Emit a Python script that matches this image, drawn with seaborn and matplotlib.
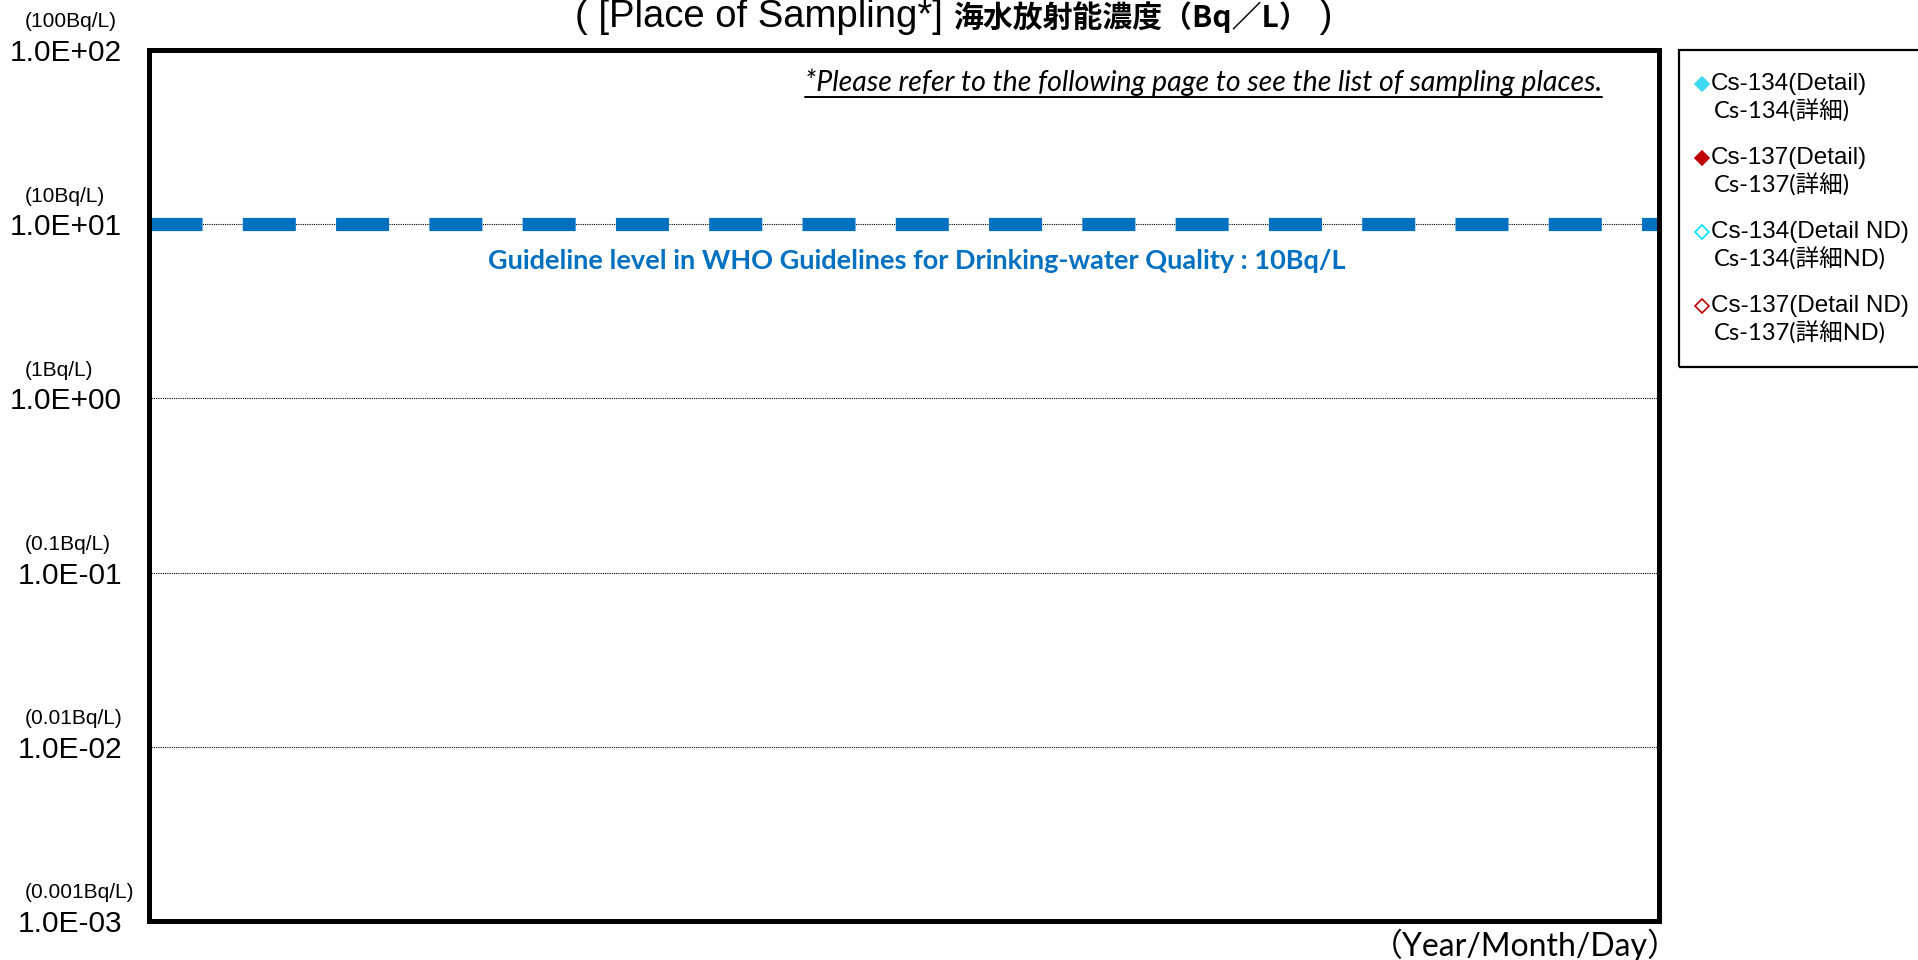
import numpy as np
import pandas as pd
import matplotlib
matplotlib.use("Agg")
import matplotlib.pyplot as plt
import matplotlib.transforms as mtransforms
import seaborn as sns
from matplotlib.lines import Line2D
from matplotlib.patches import Rectangle

# chart data
y_ticks = [1e-3, 1e-2, 1e-1, 1e0, 1e1, 1e2]
y_tick_labels = ["1.0E-03", "1.0E-02", "1.0E-01", "1.0E+00", "1.0E+01", "1.0E+02"]
y_unit_labels = ["(0.001Bq/L)", "(0.01Bq/L)", "(0.1Bq/L)", "(1Bq/L)", "(10Bq/L)", "(100Bq/L)"]
guideline_value = 10
guideline_text = "Guideline level in WHO Guidelines for Drinking-water Quality : 10Bq/L"
note_text = "*Please refer to the following page to see the list of sampling places."
title_parts = ["( [Place of Sampling*] ", "海水放射能濃度（Bq／L）", " )"]
x_label = "（Year/Month/Day）"

series_en = ["Cs-134(Detail)", "Cs-137(Detail)", "Cs-134(Detail ND)", "Cs-137(Detail ND)"]
series_ja = ["Cs-134(詳細)", "Cs-137(詳細)", "Cs-134(詳細ND)", "Cs-137(詳細ND)"]
series_face = ["#3FD8F2", "#C00000", "white", "white"]
series_edge = ["#3FD8F2", "#C00000", "#00E0FF", "#C00000"]

# no measurements are plotted in this chart
sample_dates = []
sample_values = []

sns.set_theme(style="white")
plt.rcParams["font.family"] = ["Liberation Sans", "Noto Sans CJK JP", "DejaVu Sans"]

W, H = 1918, 960
fig = plt.figure(figsize=(W / 100, H / 100), dpi=100)


def fx(px):
    return px / W


def fy(py):
    return 1 - py / H


ax = fig.add_axes([fx(149), fy(921), (1659 - 149) / W, (921 - 50) / H])

for name in series_en:
    df = pd.DataFrame({"date": sample_dates, "value": sample_values}, dtype=float)
    sns.scatterplot(data=df, x="date", y="value", ax=ax)

ax.set_yscale("log")
ax.set_ylim(y_ticks[0], y_ticks[-1])
ax.set_xlim(0, 1)
ax.set_xticks([])
ax.set_xlabel("")
ax.set_ylabel("")
ax.set_yticks(y_ticks)
ax.set_yticklabels(y_tick_labels, fontsize=21.5, family="Liberation Sans")
ax.yaxis.set_minor_locator(matplotlib.ticker.NullLocator())
ax.tick_params(axis="y", length=0, pad=19.5, colors="black")

ax.yaxis.grid(True, color="black", linestyle=(0, (1, 1)), linewidth=0.8, zorder=1)
ax.set_axisbelow(True)
for sp in ax.spines.values():
    sp.set_visible(True)
    sp.set_color("black")
    sp.set_linewidth(3.6)
    sp.set_zorder(5)

# WHO guideline level
ax.axhline(guideline_value, color="#0070C0", linewidth=9.5, dashes=(4.02, 3.05), zorder=3)
ax.text(fx(917), fy(261), guideline_text, transform=fig.transFigure, ha="center", va="center",
        fontsize=19.5, fontweight="bold", color="#0070C0", family="Lato")

# unit labels above tick labels
unit_trans = mtransforms.offset_copy(
    mtransforms.blended_transform_factory(fig.transFigure, ax.transData), fig=fig, y=28, units="dots")
for v, lab in zip(y_ticks, y_unit_labels):
    ax.text(fx(25), v, lab, transform=unit_trans, ha="left", va="center", fontsize=15,
            family="Liberation Sans", color="black", clip_on=False)

# note, title, x label
note = fig.text(fx(1602), fy(91), note_text, ha="right", va="baseline", fontsize=20.5,
                style="italic", family="Lato", color="black")
t1 = fig.text(fx(575), fy(27), title_parts[0], ha="left", va="baseline", fontsize=27.5,
              family="Liberation Sans", color="black")
fig.text(fx(1680), fy(945), x_label, ha="right", va="center", fontsize=23,
         family=["Lato", "Noto Sans CJK JP"], color="black")

fig.canvas.draw()
renderer = fig.canvas.get_renderer()
bb = note.get_window_extent(renderer)
fig.add_artist(Line2D([bb.x0 / W, bb.x1 / W], [fy(97), fy(97)], color="black", lw=1.4,
                      transform=fig.transFigure))
bb1 = t1.get_window_extent(renderer)
t2 = fig.text(bb1.x1 / W, fy(27), title_parts[1], ha="left", va="baseline", fontsize=21.5,
              fontweight="bold", family="Noto Sans CJK JP", color="black")
fig.canvas.draw()
bb2 = t2.get_window_extent(renderer)
fig.text(bb2.x1 / W, fy(27), title_parts[2], ha="left", va="baseline", fontsize=27.5,
         family="Liberation Sans", color="black")

# legend box
fig.add_artist(Rectangle((fx(1679), fy(367)), (1940 - 1679) / W, (367 - 50) / H, fill=False,
                         edgecolor="black", linewidth=1.6, transform=fig.transFigure, clip_on=False))
for i in range(len(series_en)):
    y0 = 84 + i * 74
    fig.add_artist(Line2D([fx(1702)], [fy(y0)], marker="D", markersize=7.5, markerfacecolor=series_face[i],
                          markeredgecolor=series_edge[i], markeredgewidth=1.2, linestyle="none",
                          transform=fig.transFigure))
    fig.text(fx(1711), fy(y0), series_en[i], ha="left", va="center", fontsize=17.5,
             family="Liberation Sans", color="black")
    fig.text(fx(1714), fy(y0 + 27), series_ja[i], ha="left", va="center", fontsize=17,
             family=["Lato", "Noto Sans CJK JP"], color="black")

fig.savefig("out.png", dpi=100, facecolor="white")
